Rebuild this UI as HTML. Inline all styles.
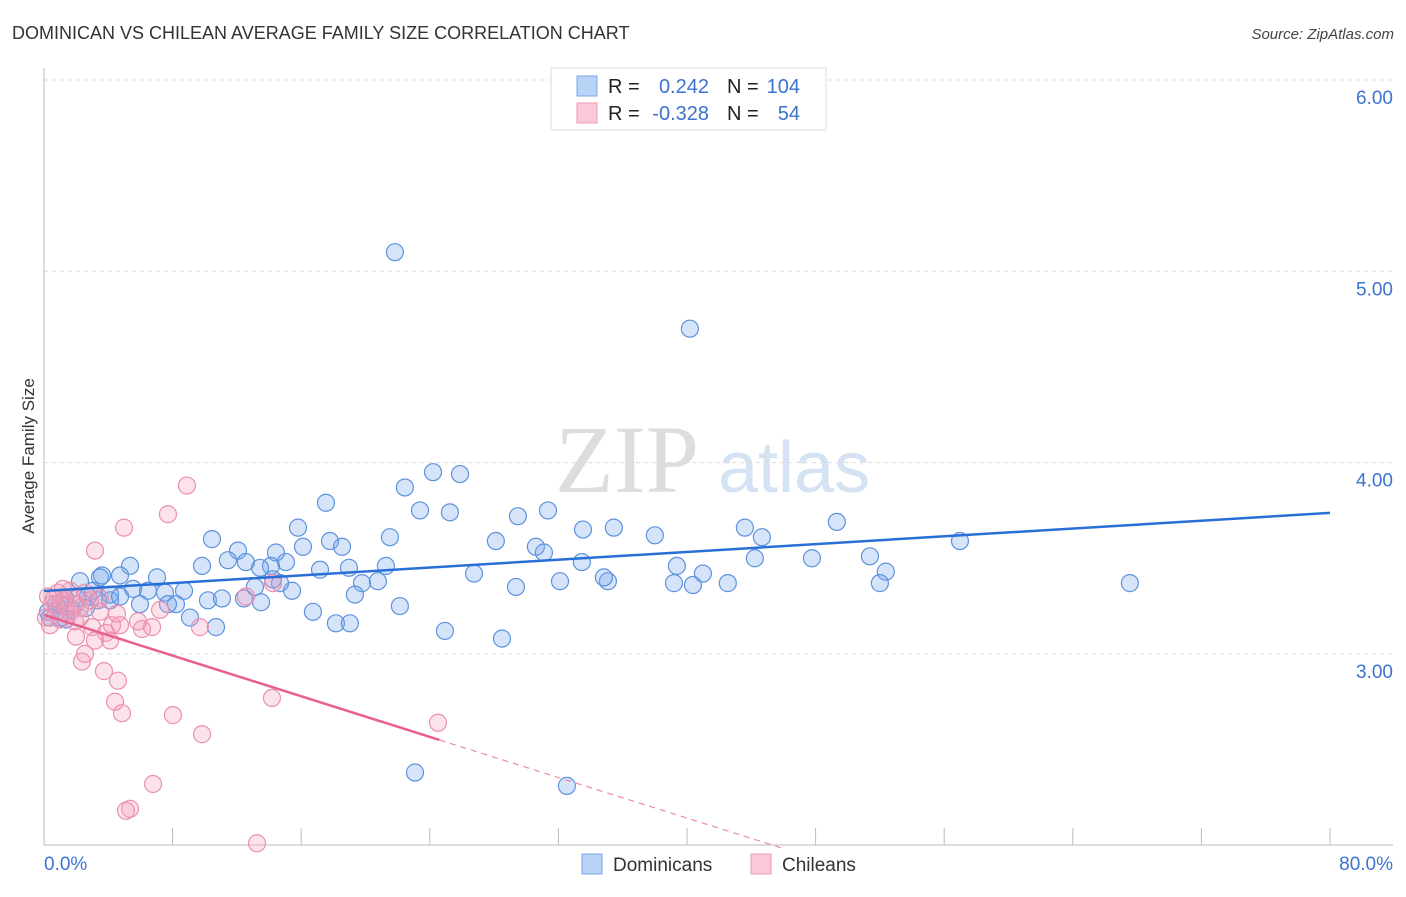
<!DOCTYPE html>
<html><head><meta charset="utf-8">
<style>
body{margin:0;background:#fff;font-family:"Liberation Sans",sans-serif;}
svg text{font-family:"Liberation Sans",sans-serif;}
</style></head>
<body>
<svg id="chart" width="1406" height="892" viewBox="0 0 1406 892" xmlns="http://www.w3.org/2000/svg">
<text x="12" y="39" font-size="18" fill="#333">DOMINICAN VS CHILEAN AVERAGE FAMILY SIZE CORRELATION CHART</text>
<text x="1394" y="39" font-size="15" fill="#444" text-anchor="end" font-style="italic">Source: ZipAtlas.com</text>
<text transform="translate(34,456) rotate(-90)" font-size="17" fill="#333" text-anchor="middle">Average Family Size</text>
<g>
<text x="555" y="492" font-size="96" fill="#ddd" font-family="Liberation Serif" style="font-family:'Liberation Serif',serif">ZIP</text>
<text x="718" y="492" font-size="72" fill="#d4e2f4">atlas</text>
</g>
<g id="grid"></g>
<g id="axes"></g>
<g id="pts"></g>
<g id="trends"></g>
<g>
<rect x="551" y="68" width="275" height="62" fill="#fff" stroke="#ddd"/>
<rect x="577" y="76" width="20" height="20" fill="#b9d3f6" stroke="#7aa5e6"/>
<rect x="577" y="103" width="20" height="20" fill="#fbc8d8" stroke="#ef9ab5"/>
<text x="608" y="93" font-size="20" fill="#222">R =</text>
<text x="709" y="93" font-size="20" fill="#3b73d1" text-anchor="end">0.242</text>
<text x="727" y="93" font-size="20" fill="#222">N =</text>
<text x="800" y="93" font-size="20" fill="#3b73d1" text-anchor="end">104</text>
<text x="608" y="120" font-size="20" fill="#222">R =</text>
<text x="709" y="120" font-size="20" fill="#3b73d1" text-anchor="end">-0.328</text>
<text x="727" y="120" font-size="20" fill="#222">N =</text>
<text x="800" y="120" font-size="20" fill="#3b73d1" text-anchor="end">54</text>
</g>
<g>
<rect x="582" y="854" width="20" height="20" fill="#b9d3f6" stroke="#7aa5e6"/>
<text x="613" y="871" font-size="19" fill="#333">Dominicans</text>
<rect x="751" y="854" width="20" height="20" fill="#fbc8d8" stroke="#ef9ab5"/>
<text x="782" y="871" font-size="19" fill="#333">Chileans</text>
</g>
</svg>
<script>
const yTicks=[3,4,5,6];
const yTickLabels=["3.00","4.00","5.00","6.00"];
const xTicks=[0,8,16,24,32,40,48,56,64,72,80];
const domX=[21.83,40.18,24.20,25.88,22.45,17.54,23.39,25.25,29.48,31.35,33.53,35.45,38.00,43.60,44.66,49.32,56.98,67.55,10.45,15.80,12.07,14.43,16.11,17.79,18.54,21.52,28.11,30.60,31.10,33.46,39.37,40.99,47.77,44.22,51.38,52.37,52.00,42.54,40.37,39.19,35.08,34.83,32.10,29.36,26.75,21.27,20.77,19.78,19.34,18.97,17.17,15.05,14.12,13.44,12.56,11.44,9.83,5.35,4.73,3.61,2.24,7.03,8.71,7.53,6.47,5.54,4.11,3.05,2.74,2.05,1.31,0.75,0.25,0.37,1.00,1.74,5.97,8.21,9.08,10.20,11.07,12.44,13.50,14.24,15.43,16.73,18.16,19.03,22.14,24.94,28.49,23.08,32.53,10.70,4.11,7.71,13.12,14.68,4.73,3.36,1.00,2.61,1.37,3.48];
const domY=[5.10,4.70,3.95,3.94,3.87,3.79,3.75,3.74,3.72,3.75,3.65,3.66,3.62,3.66,3.61,3.69,3.59,3.37,3.60,3.66,3.54,3.53,3.56,3.59,3.56,3.61,3.59,3.56,3.53,3.48,3.46,3.42,3.50,3.50,3.51,3.43,3.37,3.37,3.36,3.37,3.38,3.40,3.38,3.35,3.42,3.46,3.38,3.37,3.31,3.45,3.44,3.48,3.46,3.45,3.48,3.49,3.46,3.46,3.41,3.41,3.38,3.40,3.33,3.32,3.33,3.34,3.31,3.33,3.30,3.29,3.29,3.26,3.22,3.19,3.19,3.23,3.26,3.26,3.19,3.28,3.29,3.29,3.27,3.39,3.33,3.22,3.16,3.16,3.25,3.12,3.08,2.38,2.31,3.14,3.28,3.26,3.35,3.37,3.30,3.28,3.26,3.24,3.18,3.40];
const chiX=[8.89,7.71,4.98,3.17,0.25,0.50,0.75,0.12,1.00,1.62,2.24,1.24,1.62,2.55,2.86,3.48,0.87,1.93,2.99,4.23,4.73,6.10,6.72,5.85,3.86,4.11,3.17,1.99,9.70,12.56,14.24,2.36,2.55,3.73,4.60,4.42,4.85,8.02,9.83,14.18,24.51,6.78,5.35,5.10,13.25,3.48,1.37,0.37,2.24,7.22,4.54,1.18,0.62,1.93];
const chiY=[3.88,3.73,3.66,3.54,3.30,3.26,3.22,3.19,3.18,3.22,3.24,3.28,3.33,3.32,3.28,3.29,3.32,3.17,3.14,3.15,3.15,3.13,3.14,3.17,3.11,3.07,3.07,3.09,3.14,3.30,3.37,2.96,3.00,2.91,2.86,2.75,2.69,2.68,2.58,2.77,2.64,2.32,2.19,2.18,2.01,3.22,3.25,3.15,3.19,3.23,3.21,3.34,3.29,3.26];
const domTrend=[[0,3.329],[80,3.737]];
const chiTrendSolid=[[0,3.204],[24.6,2.55]];
const chiTrendDash=[[24.6,2.55],[46.1,1.98]];

const NS="http://www.w3.org/2000/svg";
const X=v=>44+v*(1286/80);
const Y=v=>80+(6-v)*191.3;
function mk(tag,attrs,parent){const e=document.createElementNS(NS,tag);for(const k in attrs)e.setAttribute(k,attrs[k]);parent.appendChild(e);return e;}
const grid=document.getElementById('grid'),axes=document.getElementById('axes'),pts=document.getElementById('pts'),tr=document.getElementById('trends');
yTicks.forEach((t,i)=>{
  const l=mk('line',{x1:44,x2:1393,y1:Y(t),y2:Y(t),stroke:'#ddd','stroke-dasharray':'4,4'},grid);
  
  
  const tx=mk('text',{x:1393,y:Y(t)+24,'font-size':19,fill:'#3b73d1','text-anchor':'end'},axes);
  tx.textContent=yTickLabels[i];
  
  
});
let a=mk('line',{x1:44,x2:44,y1:68,y2:845,stroke:'#bbb'},axes);


a=mk('line',{x1:44,x2:1393,y1:845,y2:845,stroke:'#bbb'},axes);


xTicks.forEach(t=>{
  const l=mk('line',{x1:X(t),x2:X(t),y1:828,y2:845,stroke:'#bbb'},axes);
  
  
});
let xl=mk('text',{x:44,y:870,'font-size':19,fill:'#3b73d1'},axes);xl.textContent='0.0%';


xl=mk('text',{x:1393,y:870,'font-size':19,fill:'#3b73d1','text-anchor':'end'},axes);xl.textContent='80.0%';


domX.forEach((v,i)=>{
  const c=mk('circle',{cx:X(v),cy:Y(domY[i]),r:8.5,fill:'rgba(120,165,235,0.3)',stroke:'#5d92dd','stroke-width':1.2},pts);
  
  
});
chiX.forEach((v,i)=>{
  const c=mk('circle',{cx:X(v),cy:Y(chiY[i]),r:8.5,fill:'rgba(245,160,190,0.3)',stroke:'#eb90ae','stroke-width':1.2},pts);
  
  
});
let t=mk('line',{x1:X(domTrend[0][0]),y1:Y(domTrend[0][1]),x2:X(domTrend[1][0]),y2:Y(domTrend[1][1]),stroke:'#2a6fd6','stroke-width':2.5},tr);


t=mk('line',{x1:X(chiTrendSolid[0][0]),y1:Y(chiTrendSolid[0][1]),x2:X(chiTrendSolid[1][0]),y2:Y(chiTrendSolid[1][1]),stroke:'#e9608d','stroke-width':2.5},tr);


t=mk('line',{x1:X(chiTrendDash[0][0]),y1:Y(chiTrendDash[0][1]),x2:X(chiTrendDash[1][0]),y2:Y(chiTrendDash[1][1]),stroke:'#ec8aab','stroke-width':1.2,'stroke-dasharray':'6,5'},tr);


</script>
</body></html>
